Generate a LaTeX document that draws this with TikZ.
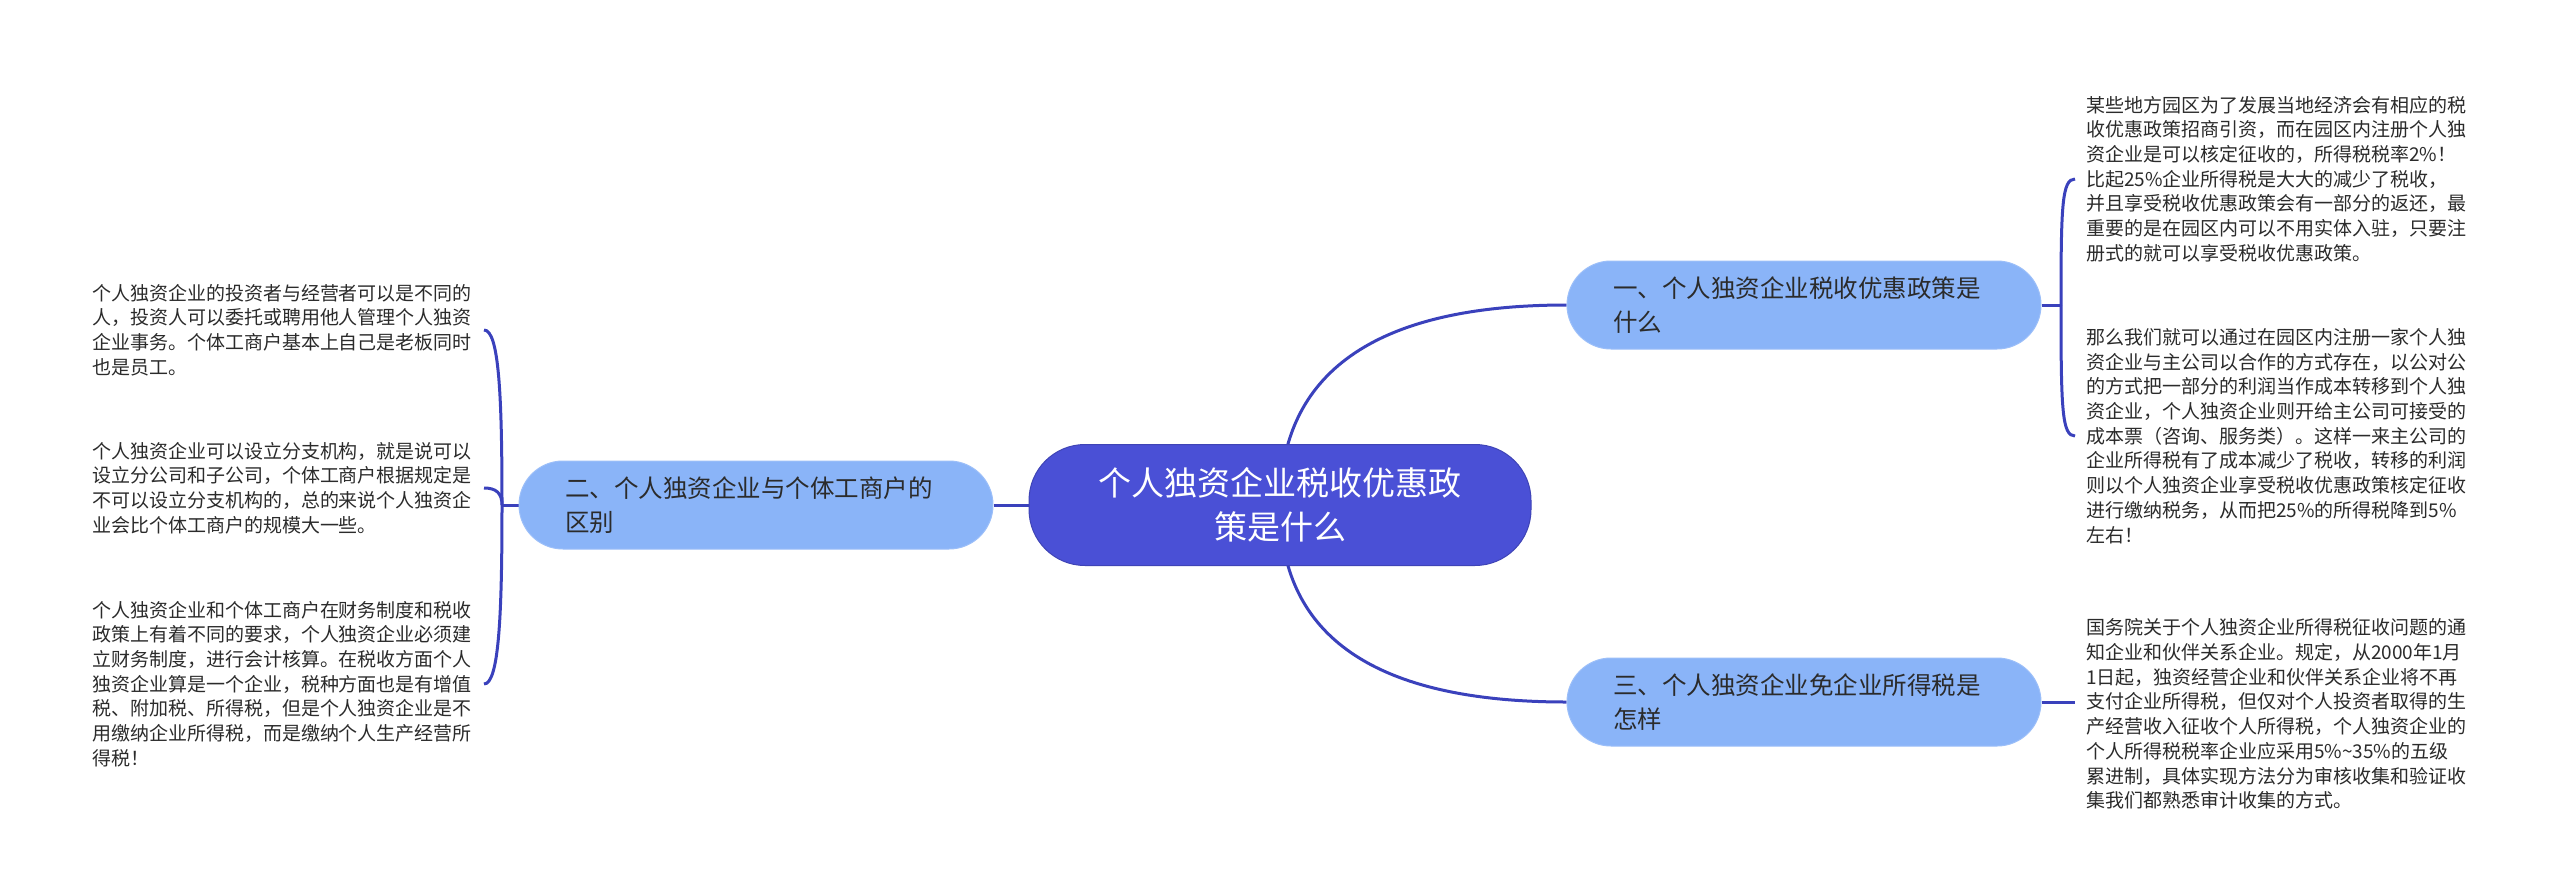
\documentclass[tikz,border=0pt]{standalone}
\usepackage{fontspec}
\setmainfont{Noto Sans CJK SC}
\usetikzlibrary{backgrounds}
\definecolor{cmain}{HTML}{4A50D6}
\definecolor{cbranch}{HTML}{8AB4F8}
\definecolor{cline}{HTML}{3A41BC}
\definecolor{ctext}{HTML}{2B2B2B}
\begin{document}
\begin{tikzpicture}[x=1pt,y=-1pt,
  rootbox/.style={fill=cmain, draw=cmain!85!black, line width=1pt, rounded corners=56pt,
    minimum width=502pt, minimum height=121pt, text=white, align=center,
    font=\fontsize{33}{44}\selectfont, inner sep=0pt},
  branchbox/.style={fill=cbranch, draw=cbranch!85!white, line width=1pt, rounded corners=44pt,
    minimum height=88pt, text width=382pt, inner xsep=46pt, inner ysep=0pt, align=left,
    text=ctext, font=\fontsize{24.5}{34}\selectfont},
  leaf/.style={text=ctext, font=\fontsize{19}{24.7}\selectfont, align=left,
    text width=380pt, inner sep=0pt},
  leafR/.style={leaf, anchor=west, outer xsep=11pt, outer ysep=0pt},
  leafL/.style={leaf, anchor=east, outer xsep=12pt, outer ysep=0pt},
  conn/.style={draw=cline, line width=3pt}]
\useasboundingbox (0,0) rectangle (2560,895);

\node[rootbox] (c) at (1280,505) {个人独资企业税收优惠政\\策是什么};
\node[branchbox] (b1) at (1804,305) {一、个人独资企业税收优惠政策是\\什么};
\node[branchbox] (b2) at (756,505) {二、个人独资企业与个体工商户的\\区别};
\node[branchbox] (b3) at (1804,702) {三、个人独资企业免企业所得税是\\怎样};

\node[leafR] (t1) at (2075,179) {某些地方园区为了发展当地经济会有相应的税\\收优惠政策招商引资，而在园区内注册个人独\\资企业是可以核定征收的，所得税税率2\%！\\比起25\%企业所得税是大大的减少了税收，\\并且享受税收优惠政策会有一部分的返还，最\\重要的是在园区内可以不用实体入驻，只要注\\册式的就可以享受税收优惠政策。};
\node[leafR] (t2) at (2075,436) {那么我们就可以通过在园区内注册一家个人独\\资企业与主公司以合作的方式存在，以公对公\\的方式把一部分的利润当作成本转移到个人独\\资企业，个人独资企业则开给主公司可接受的\\成本票（咨询、服务类）。这样一来主公司的\\企业所得税有了成本减少了税收，转移的利润\\则以个人独资企业享受税收优惠政策核定征收\\进行缴纳税务，从而把25\%的所得税降到5\%\\左右！};
\node[leafR] (t3) at (2075,714) {国务院关于个人独资企业所得税征收问题的通\\知企业和伙伴关系企业。规定，从2000年1月\\1日起，独资经营企业和伙伴关系企业将不再\\支付企业所得税，但仅对个人投资者取得的生\\产经营收入征收个人所得税，个人独资企业的\\个人所得税税率企业应采用5\%\textasciitilde35\%的五级\\累进制，具体实现方法分为审核收集和验证收\\集我们都熟悉审计收集的方式。};

\node[leafL] (t4) at (484,330) {个人独资企业的投资者与经营者可以是不同的\\人，投资人可以委托或聘用他人管理个人独资\\企业事务。个体工商户基本上自己是老板同时\\也是员工。};
\node[leafL] (t5) at (484,488) {个人独资企业可以设立分支机构，就是说可以\\设立分公司和子公司，个体工商户根据规定是\\不可以设立分支机构的，总的来说个人独资企\\业会比个体工商户的规模大一些。};
\node[leafL] (t6) at (484,684) {个人独资企业和个体工商户在财务制度和税收\\政策上有着不同的要求，个人独资企业必须建\\立财务制度，进行会计核算。在税收方面个人\\独资企业算是一个企业，税种方面也是有增值\\税、附加税、所得税，但是个人独资企业是不\\用缴纳企业所得税，而是缴纳个人生产经营所\\得税！};

\coordinate (jR) at (2061,305);
\coordinate (jL) at (502,505);

\begin{scope}[on background layer]
\fill[white] (0,0) rectangle (2560,895);
\draw[conn] (c.center) .. controls +(0,-105) and +(-227,0) .. (b1.west);
\draw[conn] (c.center) .. controls +(0,105) and +(-227,0) .. (b3.west);
\draw[conn] (b2.east) -- (c.west);
\draw[conn] (b1.east) -- (jR);
\draw[conn] (jR) .. controls +(0,-100) and +(-13,0) .. (t1.west);
\draw[conn] (jR) .. controls +(0,105) and +(-13,0) .. (t2.west);
\draw[conn] (b3.east) -- (b3.east -| t3.west);
\draw[conn] (b2.west) -- (jL);
\draw[conn] (jL) .. controls +(0,-110) and +(15,0) .. (t4.east);
\draw[conn] (jL) .. controls +(0,-12) and +(12,0) .. (t5.east);
\draw[conn] (jL) .. controls +(0,110) and +(15,0) .. (t6.east);
\end{scope}
\end{tikzpicture}
\end{document}
